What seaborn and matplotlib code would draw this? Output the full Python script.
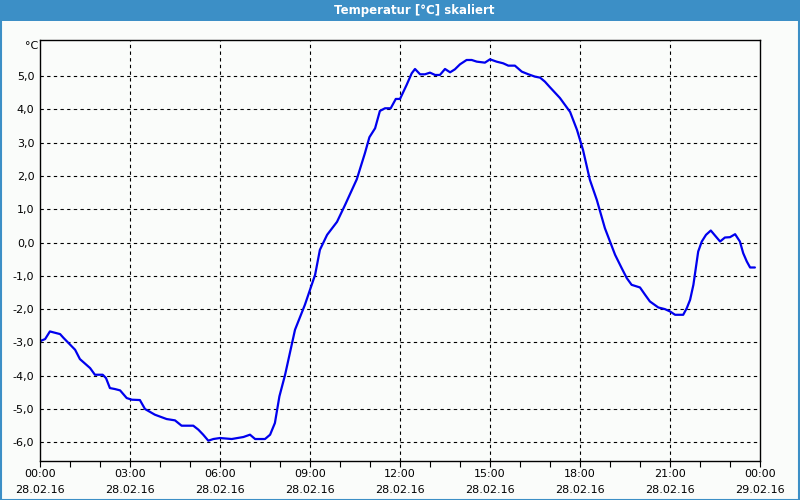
import matplotlib
matplotlib.use("Agg")
import matplotlib.pyplot as plt
from matplotlib.patches import Rectangle
import seaborn as sns
import pandas as pd

title = "Temperatur [°C] skaliert"
unit_label = "°C"

hours = [0.0, 0.03, 0.17, 0.33, 0.67, 0.78, 1.17, 1.33, 1.67, 1.83, 2.09, 2.2, 2.33, 2.5,
         2.67, 2.89, 3.06, 3.33, 3.5, 3.83, 4.22, 4.5, 4.72, 5.11, 5.28, 5.44, 5.61, 5.78,
         6.0, 6.39, 6.78, 7.0, 7.17, 7.5, 7.67, 7.83, 7.98, 8.17, 8.5, 8.83, 9.17, 9.33,
         9.57, 9.9, 10.17, 10.56, 10.83, 10.98, 11.17, 11.33, 11.5, 11.69, 11.86, 12.0,
         12.22, 12.39, 12.5, 12.67, 12.83, 13.0, 13.17, 13.33, 13.5, 13.67, 13.83, 14.0,
         14.22, 14.39, 14.56, 14.83, 15.0, 15.22, 15.44, 15.61, 15.83, 16.06, 16.28, 16.5,
         16.67, 16.83, 17.0, 17.33, 17.67, 17.9, 18.1, 18.33, 18.56, 18.83, 19.0, 19.17,
         19.39, 19.56, 19.72, 20.0, 20.17, 20.33, 20.61, 20.83, 21.0, 21.17, 21.44, 21.56,
         21.67, 21.78, 21.86, 21.94, 22.06, 22.2, 22.36, 22.5, 22.67, 22.83, 23.0, 23.17,
         23.33, 23.44, 23.56, 23.67, 23.83]
temps = [-3.0, -2.95, -2.9, -2.67, -2.75, -2.86, -3.22, -3.5, -3.77, -3.97, -3.97, -4.07,
         -4.37, -4.4, -4.44, -4.67, -4.72, -4.73, -5.0, -5.17, -5.3, -5.34, -5.5, -5.5,
         -5.62, -5.77, -5.95, -5.9, -5.87, -5.9, -5.84, -5.77, -5.9, -5.9, -5.77, -5.42,
         -4.62, -3.97, -2.62, -1.87, -0.97, -0.22, 0.23, 0.62, 1.13, 1.9, 2.68, 3.16, 3.43,
         3.95, 4.03, 4.03, 4.31, 4.31, 4.73, 5.08, 5.21, 5.05, 5.05, 5.1, 5.03, 5.03, 5.21,
         5.11, 5.2, 5.35, 5.48, 5.48, 5.43, 5.4, 5.5, 5.43, 5.38, 5.31, 5.31, 5.13, 5.05,
         4.98, 4.95, 4.83, 4.66, 4.34, 3.92, 3.38, 2.78, 1.88, 1.28, 0.43, 0.03, -0.37,
         -0.77, -1.07, -1.27, -1.35, -1.57, -1.77, -1.95, -2.0, -2.07, -2.17, -2.17, -1.97,
         -1.72, -1.27, -0.77, -0.27, 0.03, 0.23, 0.36, 0.21, 0.03, 0.15, 0.16, 0.25, 0.03,
         -0.32, -0.57, -0.75, -0.75]

x_tick_hours = [0, 3, 6, 9, 12, 15, 18, 21, 24]
x_tick_times = ["00:00", "03:00", "06:00", "09:00", "12:00", "15:00", "18:00", "21:00", "00:00"]
x_tick_dates = ["28.02.16"] * 8 + ["29.02.16"]
y_ticks = [-6, -5, -4, -3, -2, -1, 0, 1, 2, 3, 4, 5]

sns.set_theme(style="white")
plt.rcParams["font.family"] = ["DejaVu Sans"]

bg = "#FAFCFA"
bar_color = "#3C8FC6"

fig = plt.figure(figsize=(8, 5), dpi=100, facecolor=bg)
ax = fig.add_axes([40 / 800, 1 - 461 / 500, 720 / 800, 421 / 500])
ax.set_facecolor(bg)

df = pd.DataFrame({"h": hours, "t": temps})
sns.lineplot(data=df, x="h", y="t", ax=ax, color="#0000EE", linewidth=1.6)

ax.set_xlim(0, 24)
ax.set_ylim(-6.56, 6.08)
ax.set_xlabel("")
ax.set_ylabel("")

ax.set_yticks(y_ticks)
ax.set_yticklabels([f"{v:.1f}".replace(".", ",") for v in y_ticks], fontsize=8, color="black")
ax.set_xticks(x_tick_hours)
ax.set_xticklabels([f"{t}\n{d}" for t, d in zip(x_tick_times, x_tick_dates)],
                   fontsize=8, color="black", linespacing=1.75)
ax.set_xticks(list(range(0, 25)), minor=True)

ax.tick_params(axis="y", which="both", length=0, pad=4)
ax.tick_params(axis="x", which="both", length=4, width=0.8, color="black", direction="out", pad=2,
               bottom=True)

for spine in ax.spines.values():
    spine.set_color("black")
    spine.set_linewidth(1.0)
    spine.set_visible(True)

for v in y_ticks:
    ax.axhline(v, color="black", linestyle=(0, (3, 3)), linewidth=0.8, zorder=0)
for v in x_tick_hours[1:-1]:
    ax.axvline(v, color="black", linestyle=(0, (3, 3)), linewidth=0.8, zorder=0)

fig.text(32 / 800, 1 - 46 / 500, unit_label, fontsize=8, ha="center", va="center", color="black")

# title bar and frame
fig.patches.append(Rectangle((0, 1 - 21 / 500), 1, 21 / 500, transform=fig.transFigure,
                             facecolor=bar_color, edgecolor="none", zorder=0))
fig.patches.append(Rectangle((0.5 / 800, 0.5 / 500), 798.5 / 800, 498.5 / 500, transform=fig.transFigure,
                             facecolor="none", edgecolor=bar_color, linewidth=1.5, zorder=1))
fig.text(414 / 800, 1 - 10.5 / 500, title, fontsize=8.5, fontweight="bold", color="white",
         ha="center", va="center")

fig.savefig("out.png", dpi=100, facecolor=bg)
